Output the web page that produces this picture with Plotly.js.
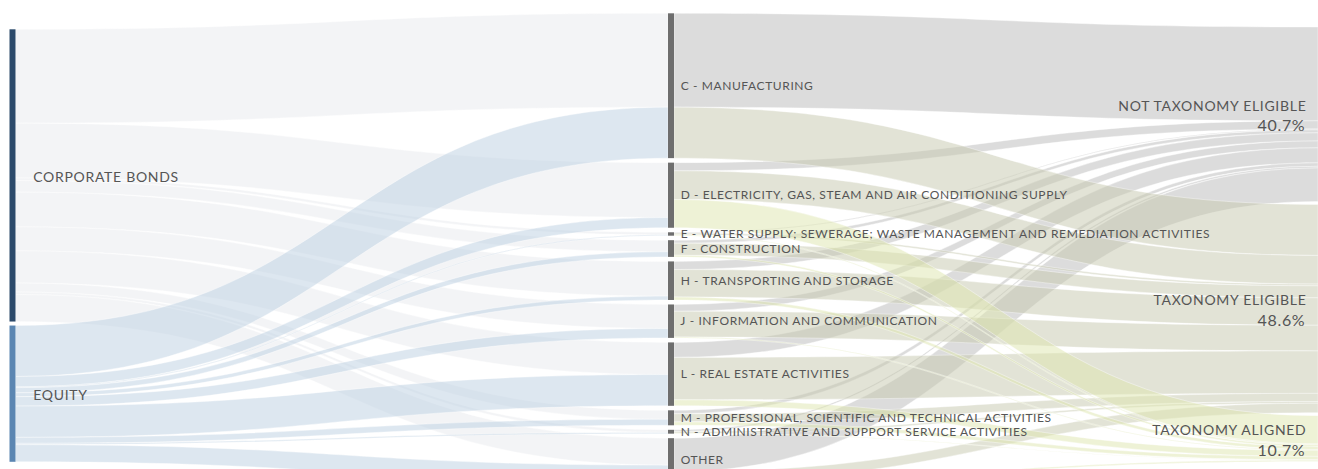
<!DOCTYPE html>
<html><head><meta charset="utf-8">
<script src="https://cdn.plot.ly/plotly-3.0.1.min.js"></script>
<style>
html,body{margin:0;padding:0;background:#fff;overflow:hidden;width:1318px;height:469px;}
#chart{width:1324px;height:469px;}
.sankey .node-label{letter-spacing:0.6px;text-shadow:none !important;}
.sankey .node-label tspan.line:nth-child(2){font-size:16px;letter-spacing:0.7px;}
</style></head><body><div id="chart"></div>
<script>
// ---- data (share of portfolio, %) ----
const sources = ["CORPORATE BONDS", "EQUITY"];
const sectors = [
  "C - MANUFACTURING",
  "D - ELECTRICITY, GAS, STEAM AND AIR CONDITIONING SUPPLY",
  "E - WATER SUPPLY; SEWERAGE; WASTE MANAGEMENT AND REMEDIATION ACTIVITIES",
  "F - CONSTRUCTION",
  "H - TRANSPORTING AND STORAGE",
  "J - INFORMATION AND COMMUNICATION",
  "L - REAL ESTATE ACTIVITIES",
  "M - PROFESSIONAL, SCIENTIFIC AND TECHNICAL ACTIVITIES",
  "N - ADMINISTRATIVE AND SUPPORT SERVICE ACTIVITIES",
  "OTHER"
];
const outcomes = ["NOT TAXONOMY ELIGIBLE", "TAXONOMY ELIGIBLE", "TAXONOMY ALIGNED"];
const outcomeShares = ["40.7%", "48.6%", "10.7%"];

const corporateBonds = [21.9, 12.8, 0.6, 2.7, 8.1, 5.6, 7.5, 2.1, 0.6, 6.3];
const equity         = [11.9,  2.4, 0.2, 1.2, 0.9, 2.2, 7.3, 1.4, 0.3, 4.0];
const notEligible    = [21.9,  1.9, 0.2, 0.7, 1.9, 1.6, 3.5, 0.8, 0.4, 7.8];
const eligible       = [11.9,  6.7, 0.4, 2.8, 6.4, 6.0, 9.9, 1.9, 0.4, 2.2];
const aligned        = [0.0,   6.6, 0.2, 0.4, 0.7, 0.2, 1.4, 0.8, 0.1, 0.3];

// ---- build sankey ----
const VIEW_W = 1318, W = 1324, H = 469;
const PAD = 4.5;
const sum = a => a.reduce((s, v) => s + v, 0);
const sectorTotals = sectors.map((_, i) => corporateBonds[i] + equity[i]);
const outcomeTotals = [sum(notEligible), sum(eligible), sum(aligned)];
const sourceTotals = [sum(corporateBonds), sum(equity)];
const ky = (H - (sectors.length - 1) * PAD) / sum(sectorTotals);

function stack(vals, top, gap) {
  let y = top; const out = [];
  vals.forEach(v => { const h = v * ky; out.push((y + h / 2) / H); y += h + gap; });
  return out;
}

const big = (t, extra) => "<span style='font-size:14px;letter-spacing:0.7px" + (extra || "") + "'>" + t + "</span>";
const nb = n => "\u00a0".repeat(n);
const labels = [
  ...sources.map(s => nb(4) + big(s, ";baseline-shift:-2px")),
  ...sectors.map(s => nb(1) + s),
  ...outcomes.map((o, i) => big(o + nb(2)) + "<br>" + outcomeShares[i] + nb(2))
];
const nx = [
  ...sources.map(() => 12.5 / W),
  ...sectors.map(() => 671 / W),
  ...outcomes.map(() => (VIEW_W + 3) / W)
];
const ny = [
  ...stack(sourceTotals, 29.3, 4),
  ...stack(sectorTotals, 13.3, PAD),
  ...stack(outcomeTotals, 27, 3)
];
const nodeColors = ["#2c4a6b", "#5b86b2",
  ...sectors.map(() => "#6e6e6e"),
  ...outcomes.map(() => "rgba(0,0,0,0)")];

const src = [], tgt = [], val = [], col = [];
const S0 = 0, M0 = sources.length, O0 = M0 + sectors.length;
const srcSeries = [corporateBonds, equity];
const srcColors = ["rgba(231,233,237,0.5)", "rgba(187,207,225,0.5)"];
srcSeries.forEach((series, s) => series.forEach((v, i) => {
  if (v > 0) { src.push(S0 + s); tgt.push(M0 + i); val.push(v); col.push(srcColors[s]); }
}));
const outSeries = [notEligible, eligible, aligned];
const outColors = ["rgba(185,185,185,0.5)", "rgba(197,199,173,0.5)", "rgba(221,229,173,0.5)"];
outSeries.forEach((series, o) => series.forEach((v, i) => {
  if (v > 0) { src.push(M0 + i); tgt.push(O0 + o); val.push(v); col.push(outColors[o]); }
}));

Plotly.newPlot("chart", [{
  type: "sankey",
  arrangement: "fixed",
  hoverinfo: "none",
  node: {
    label: labels, x: nx, y: ny, color: nodeColors,
    pad: PAD, thickness: 6,
    line: {width: 0},
    hoverinfo: "none"
  },
  link: {
    source: src, target: tgt, value: val, color: col,
    line: {color: "rgba(255,255,255,0.8)", width: 0.5},
    hoverinfo: "none"
  },
  textfont: {family: "Lato, 'Open Sans', sans-serif", size: 12, color: "#555555"}
}], {
  width: W, height: H,
  margin: {l: 0, r: 0, t: 0, b: 0},
  paper_bgcolor: "#ffffff",
  font: {family: "Lato, 'Open Sans', sans-serif"}
}, {displayModeBar: false, staticPlot: true});
</script></body></html>
